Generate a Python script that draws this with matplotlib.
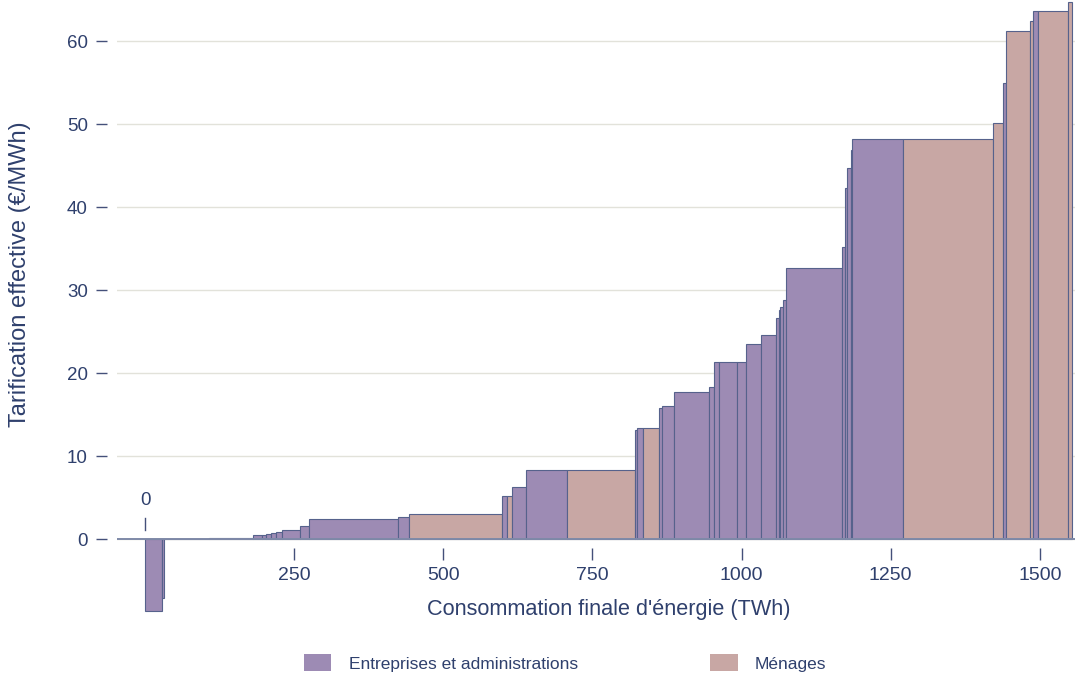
import numpy as np
import matplotlib
matplotlib.use('Agg')
from matplotlib import pyplot as plt
from matplotlib.patches import Patch

plt.rcParams['font.family'] = ['Liberation Sans', 'DejaVu Sans']

# consumption per segment (TWh), effective price (EUR/MWh), sector
widths = [28.5, 3.4, 75.1, 74, 15, 7, 8, 9, 10, 30, 15, 149.5, 18.5, 156, 8, 9, 23, 69,
          114, 3, 9, 28, 5, 19, 59, 8, 10, 29, 16, 24, 25, 5, 3, 4, 5, 94, 6, 2, 7, 2,
          85, 151, 17, 5, 40, 5, 9, 50, 7]
prices = [-8.6, -7.1, 0.08, 0.15, 0.5, 0.55, 0.65, 0.75, 0.9, 1.1, 1.6, 2.4, 2.65, 3.1,
          5.2, 5.2, 6.3, 8.4, 8.4, 13.2, 13.4, 13.4, 15.8, 16.1, 17.7, 18.4, 21.4, 21.4,
          21.4, 23.6, 24.6, 26.7, 27.6, 28.0, 28.8, 32.7, 35.2, 42.3, 44.8, 46.9, 48.3,
          48.3, 50.2, 55.0, 61.3, 62.5, 63.7, 63.7, 64.7]
sectors = ['E', 'E', 'E', 'E', 'E', 'E', 'E', 'E', 'E', 'E', 'E', 'E', 'E', 'M',
           'E', 'M', 'E', 'E', 'M', 'E', 'E', 'M', 'E', 'E', 'E', 'E', 'E', 'E',
           'E', 'E', 'E', 'E', 'E', 'E', 'E', 'E', 'E', 'E', 'E', 'E', 'E',
           'M', 'M', 'E', 'M', 'M', 'E', 'M', 'M']

xticks = [250, 500, 750, 1000, 1250, 1500]
yticks = [0, 10, 20, 30, 40, 50, 60]

col_e = '#9d8bb4'
col_m = '#c8a7a4'
edge = '#56628c'
txt = '#2f406d'

widths = np.array(widths)
lefts = np.concatenate([[0], np.cumsum(widths)[:-1]])
colors = [col_e if s == 'E' else col_m for s in sectors]

fig = plt.figure(figsize=(10.8, 6.77), dpi=100)
ax = fig.add_axes([117/1080, 1 - 614/677, (1075-117)/1080, 614/677])

ax.bar(lefts, prices, width=widths, align='edge', color=colors,
       edgecolor=edge, linewidth=0.8, zorder=2)

ax.set_xlim(-47, 1559)
ax.set_ylim(-9, 65)

ax.axhline(0, color='#7f8aa8', lw=1.4, zorder=3)
ax.set_axisbelow(True)
ax.yaxis.grid(True, color='#e2e2da', lw=1)

for s in ['top', 'right']:
    ax.spines[s].set_visible(False)
ax.spines['bottom'].set_position(('data', -1.1))
ax.spines['bottom'].set_visible(False)
ax.spines['left'].set_position(('outward', 7.2))
ax.spines['left'].set_visible(False)

ax.set_xticks(xticks)
ax.set_yticks(yticks)
ax.tick_params(axis='x', direction='out', length=8.5, width=1, color='#44507a',
               labelcolor=txt, labelsize=14, pad=5)
ax.tick_params(axis='y', direction='out', length=8, width=1, color='#44507a',
               labelcolor=txt, labelsize=13.5, pad=5.8)

# the "0" marker above the axis
ax.plot([0, 0], [1.1, 2.6], color='#44507a', lw=1, zorder=3)
ax.text(0, 3.6, '0', ha='center', va='bottom', color=txt, fontsize=13.5)

fig.text(609/1080, 1 - 610/677, "Consommation finale d'énergie (TWh)", ha='center',
         va='center', color=txt, fontsize=15.6)
fig.text(20/1080, 1 - 274/677, 'Tarification effective (€/MWh)', ha='center',
         va='center', rotation=90, color=txt, fontsize=17)

handles = [Patch(facecolor=col_e, edgecolor='none'), Patch(facecolor=col_m, edgecolor='none')]
fig.legend(handles, ['Entreprises et administrations', 'Ménages'], loc='center',
           bbox_to_anchor=(565/1080, 1 - 663/677), ncol=2, frameon=False,
           fontsize=12.5, labelcolor=txt, handlelength=1.6, handleheight=1.15,
           handletextpad=1.0, columnspacing=7.6)

fig.savefig('out.png', dpi=100)
